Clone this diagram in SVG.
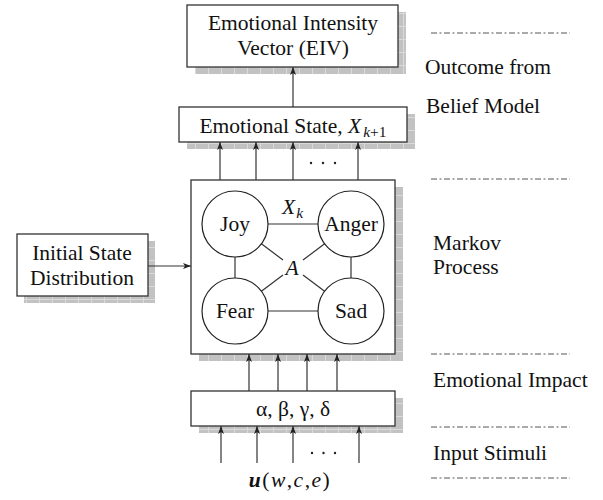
<svg xmlns="http://www.w3.org/2000/svg" width="603" height="500" viewBox="0 0 603 500">
<defs>
<pattern id="grid" width="13" height="13" patternUnits="userSpaceOnUse">
<rect width="13" height="13" fill="#c2c2c2"/>
<path d="M0.5,0 V13 M0,0.5 H13" stroke="#dadada" stroke-width="1" fill="none"/>
</pattern>
<marker id="arr" markerWidth="9" markerHeight="7" refX="8" refY="3" orient="auto" markerUnits="userSpaceOnUse">
<path d="M0,0 L8,3 L0,6 L2,3 z" fill="#222"/>
</marker>
</defs>
<style>
.box{fill:#fff;stroke:#333;stroke-width:1.3}
.shadow{fill:url(#grid)}
.t{font-family:"Liberation Serif","Times New Roman",serif;font-size:21.5px;fill:#111}
.m{text-anchor:middle}
.i{font-style:italic}
.edge{stroke:#333;stroke-width:1.2;fill:none}
.arrow{stroke:#333;stroke-width:1.2;fill:none;marker-end:url(#arr)}
.sep{stroke:#555;stroke-width:1;stroke-dasharray:6 2.5 2 2.5}
.circ{fill:#fff;stroke:#222;stroke-width:1.2}
.dot{fill:#222}
</style>
<rect width="603" height="500" fill="#fff"/>

<g id="separators">
<line class="sep" x1="431" y1="33" x2="570" y2="33"/>
<line class="sep" x1="431" y1="179" x2="570" y2="179"/>
<line class="sep" x1="431" y1="354" x2="570" y2="354"/>
<line class="sep" x1="431" y1="427" x2="570" y2="427"/>
<line class="sep" x1="431" y1="478" x2="570" y2="478"/>
</g>

<g id="layer-labels">
<text class="t" x="425" y="74">Outcome from</text>
<text class="t" x="426" y="113">Belief Model</text>
<text class="t" x="433" y="250">Markov</text>
<text class="t" x="433" y="274">Process</text>
<text class="t" x="433" y="387">Emotional Impact</text>
<text class="t" x="433" y="460">Input Stimuli</text>
</g>

<g id="eiv">
<rect class="shadow" x="195" y="12" width="211" height="62"/>
<rect class="box" x="187" y="5" width="211" height="62"/>
<text class="t m" x="293" y="30">Emotional Intensity</text>
<text class="t m" x="293" y="55">Vector (EIV)</text>
</g>

<g id="emotional-state">
<rect class="shadow" x="187" y="114" width="228" height="35"/>
<rect class="box" x="179" y="107" width="228" height="35"/>
<text class="t m" x="293" y="133">Emotional State, <tspan class="i">X</tspan><tspan class="i" font-size="15.5" dy="4" dx="2">k</tspan><tspan font-size="15.5">+1</tspan></text>
</g>

<g id="initial-state">
<rect class="shadow" x="24" y="241" width="131" height="62"/>
<rect class="box" x="17" y="234" width="131" height="62"/>
<text class="t m" x="82" y="260">Initial State</text>
<text class="t m" x="82" y="285">Distribution</text>
</g>

<g id="markov">
<rect class="shadow" x="199" y="187" width="204" height="174"/>
<rect class="box" x="191" y="180" width="204" height="174"/>
<g id="markov-edges">
<line class="edge" x1="268" y1="224" x2="318" y2="224"/>
<line class="edge" x1="235" y1="257" x2="235" y2="278"/>
<line class="edge" x1="351" y1="257" x2="351" y2="278"/>
<line class="edge" x1="268" y1="311" x2="318" y2="311"/>
<line class="edge" x1="261.4" y1="243.8" x2="283" y2="260"/>
<line class="edge" x1="324.6" y1="243.8" x2="303" y2="260"/>
<line class="edge" x1="261.4" y1="291.2" x2="283" y2="275"/>
<line class="edge" x1="324.6" y1="291.2" x2="303" y2="275"/>
</g>
<g id="joy"><circle class="circ" cx="235" cy="224" r="33"/><text class="t m" x="235" y="231">Joy</text></g>
<g id="anger"><circle class="circ" cx="351" cy="224" r="33"/><text class="t m" x="351" y="231">Anger</text></g>
<g id="fear"><circle class="circ" cx="235" cy="311" r="33"/><text class="t m" x="235" y="318">Fear</text></g>
<g id="sad"><circle class="circ" cx="351" cy="311" r="33"/><text class="t m" x="351" y="318">Sad</text></g>
<text class="t i" x="282" y="214">X<tspan font-size="15.5" dy="4" dx="1">k</tspan></text>
<text class="t i m" x="292" y="275">A</text>
</g>

<g id="params">
<rect class="shadow" x="199" y="398" width="204" height="35"/>
<rect class="box" x="191" y="391" width="204" height="35"/>
<text class="t m" x="293" y="416">α, β, γ, δ</text>
</g>

<g id="input">
<text class="t m" x="290" y="487" font-size="29px" letter-spacing="1.5"><tspan font-weight="bold" font-style="italic">u</tspan>(<tspan class="i">w</tspan>,<tspan class="i">c</tspan>,<tspan class="i">e</tspan>)</text>
</g>

<g id="connectors">
<line class="arrow" x1="293" y1="107" x2="293" y2="67"/>
<line class="arrow" x1="220" y1="180" x2="220" y2="142"/>
<line class="arrow" x1="256" y1="180" x2="256" y2="142"/>
<line class="arrow" x1="293" y1="180" x2="293" y2="142"/>
<line class="arrow" x1="358" y1="180" x2="358" y2="142"/>
<line class="arrow" x1="148" y1="266" x2="191" y2="266"/>
<line class="arrow" x1="249" y1="391" x2="249" y2="354"/>
<line class="arrow" x1="278" y1="391" x2="278" y2="354"/>
<line class="arrow" x1="307" y1="391" x2="307" y2="354"/>
<line class="arrow" x1="337" y1="391" x2="337" y2="354"/>
<line class="arrow" x1="221" y1="463" x2="221" y2="426"/>
<line class="arrow" x1="257" y1="463" x2="257" y2="426"/>
<line class="arrow" x1="293" y1="463" x2="293" y2="426"/>
<line class="arrow" x1="359" y1="463" x2="359" y2="426"/>
<circle class="dot" cx="311" cy="163" r="1.2"/>
<circle class="dot" cx="323" cy="163" r="1.2"/>
<circle class="dot" cx="335" cy="163" r="1.2"/>
<circle class="dot" cx="312" cy="453" r="1.2"/>
<circle class="dot" cx="323.5" cy="453" r="1.2"/>
<circle class="dot" cx="335" cy="453" r="1.2"/>
</g>
</svg>
